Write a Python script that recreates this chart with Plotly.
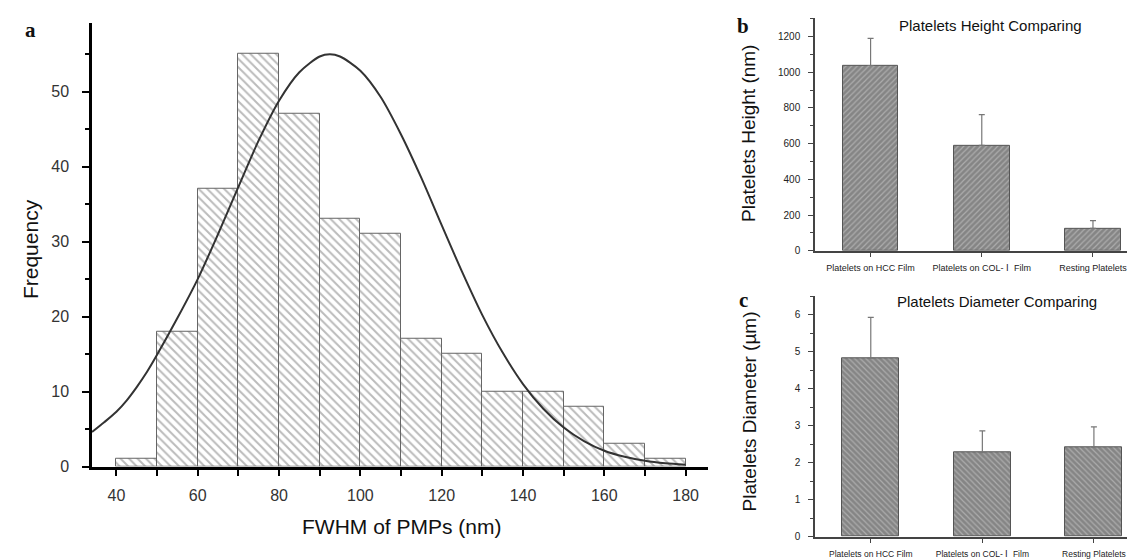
import plotly.graph_objects as go

# ---------------- data ----------------
# Panel a: histogram of FWHM (bin left edges, width 10 nm)
bin_left = [40, 50, 60, 70, 80, 90, 100, 110, 120, 130, 140, 150, 160, 170]
bin_width = 10
freq = [1, 18, 37, 55, 47, 33, 31, 17, 15, 10, 10, 8, 3, 1]

# Fitted curve
fit_x = [34, 37, 40, 42.5, 45, 47.5, 50, 55, 60, 65, 70, 75, 80, 85, 90, 92.5, 95, 100,
         105, 110, 115, 120, 125, 130, 135, 140, 145, 150, 155, 160, 165, 170, 175, 180]
fit_y = [4.6, 5.9, 7.3, 8.8, 10.6, 12.6, 14.9, 19.8, 25.0, 31.0, 37.3, 43.5, 48.8, 52.6,
         54.7, 55.0, 54.7, 52.8, 49.3, 44.3, 38.5, 32.2, 26.0, 20.2, 15.2, 11.0, 7.7,
         5.2, 3.4, 2.1, 1.3, 0.76, 0.43, 0.24]

# Panels b, c
groups = ["Platelets on HCC Film", "Platelets on COL- Ⅰ  Film", "Resting Platelets"]
height_nm = [1038, 590, 125]
height_err = [152, 173, 44]
diam_um = [4.83, 2.27, 2.43]
diam_err = [1.10, 0.59, 0.54]

# ---------------- figure ----------------
fig = go.Figure()

bin_centers = [b + bin_width / 2 for b in bin_left]
fig.add_trace(go.Bar(
    x=bin_centers, y=freq, width=[bin_width] * len(freq),
    marker=dict(color="white", line=dict(color="#666666", width=1),
                pattern=dict(shape="\\", fgcolor="#777777", bgcolor="white",
                             size=6, solidity=0.33)),
    xaxis="x", yaxis="y", showlegend=False))
fig.add_trace(go.Scatter(
    x=fit_x, y=fit_y, mode="lines", line=dict(color="#333333", width=2, shape="spline",
                                               smoothing=0.8),
    xaxis="x", yaxis="y", showlegend=False))

fig.add_trace(go.Bar(
    x=groups, y=height_nm, width=0.5,
    error_y=dict(type="data", symmetric=False, array=height_err,
                 arrayminus=[0] * len(height_err), color="#777777", thickness=1.2, width=3),
    marker=dict(color="#8a8a8a", line=dict(color="#555555", width=1),
                pattern=dict(shape="/", fgcolor="#d4d4d4", bgcolor="#858585",
                             size=4, solidity=0.3)),
    xaxis="x2", yaxis="y2", showlegend=False))

fig.add_trace(go.Bar(
    x=groups, y=diam_um, width=0.51,
    error_y=dict(type="data", symmetric=False, array=diam_err,
                 arrayminus=[0] * len(diam_err), color="#777777", thickness=1.2, width=3),
    marker=dict(color="#8a8a8a", line=dict(color="#555555", width=1),
                pattern=dict(shape="\\", fgcolor="#d4d4d4", bgcolor="#858585",
                             size=4, solidity=0.3)),
    xaxis="x3", yaxis="y3", showlegend=False))

W, H = 1135, 560
font_sans = "Liberation Sans, Arial, sans-serif"
font_serif = "Liberation Serif, Times New Roman, serif"

axis_a = dict(showgrid=False, zeroline=False, showline=True, linecolor="black",
              linewidth=2.5, ticks="outside", tickcolor="black", tickwidth=2,
              ticklen=7, tickfont=dict(family=font_sans, size=16, color="#333333"))
axis_bc = dict(showgrid=False, zeroline=False, showline=True, linecolor="#444444",
               linewidth=1.5, ticks="outside", tickcolor="#444444", tickwidth=1.2,
               ticklen=5, tickfont=dict(family=font_sans, size=10, color="#222222"))
cat_font_b = dict(family=font_sans, size=9, color="#222222")
cat_font_c = dict(family=font_sans, size=8.5, color="#222222")

fig.update_layout(
    width=W, height=H,
    margin=dict(l=0, r=0, t=0, b=0),
    paper_bgcolor="white", plot_bgcolor="white",
    bargap=0,
    xaxis=dict(axis_a, domain=[84 / W, 700 / W], range=[34, 185.5],
               tick0=40, dtick=20, anchor="y", ticklabelstandoff=6,
               minor=dict(dtick=10, tick0=40, ticks="outside", ticklen=7,
                          tickwidth=2, tickcolor="black")),
    yaxis=dict(axis_a, domain=[1 - 466 / H, 1 - 15 / H], range=[0, 59.2],
               tick0=0, dtick=10, anchor="x", ticklabelstandoff=10,
               minor=dict(dtick=5, ticks="outside", ticklen=4, tickwidth=2,
                          tickcolor="black")),
    xaxis2=dict(axis_bc, domain=[807 / W, 1.0], range=[-0.5, 2.45], anchor="y2",
                tickfont=cat_font_b, ticklabelstandoff=3),
    yaxis2=dict(axis_bc, domain=[1 - 246.7 / H, 1 - 10 / H], range=[0, 1305],
                tick0=0, dtick=200, anchor="x2", ticklabelstandoff=6,
                minor=dict(dtick=100, ticks="outside", ticklen=3, tickcolor="#444444")),
    xaxis3=dict(axis_bc, domain=[807 / W, 1.0], range=[-0.5, 2.44], anchor="y3",
                tickfont=cat_font_c, ticklabelstandoff=3),
    yaxis3=dict(axis_bc, domain=[1 - 537.3 / H, 1 - 293 / H], range=[0, 6.5],
                tick0=0, dtick=1, anchor="x3", ticklabelstandoff=6,
                minor=dict(dtick=0.5, ticks="outside", ticklen=3, tickcolor="#444444")),
)

def ann(text, x, y, size, family=font_sans, angle=0, color="#111111"):
    fig.add_annotation(text=text, x=x / W, y=1 - y / H, xref="paper", yref="paper",
                       showarrow=False, textangle=angle, xanchor="center", yanchor="middle",
                       font=dict(family=family, size=size, color=color))

ann("<b>a</b>", 22, 22, 21, family=font_serif)
ann("<b>b</b>", 735, 18, 21, family=font_serif)
ann("<b>c</b>", 735, 297, 21, family=font_serif)
ann("Frequency", 22, 245, 21, angle=-90)
ann("FWHM of PMPs (nm)", 394, 527, 21)
ann("Platelets Height (nm)", 741, 127, 19, angle=-90)
ann("Platelets Diameter (µm)", 741, 410, 19, angle=-90)
ann("Platelets Height Comparing", 982, 18, 15)
ann("Platelets Diameter Comparing", 989, 298, 15)

fig.write_html("out.html")
